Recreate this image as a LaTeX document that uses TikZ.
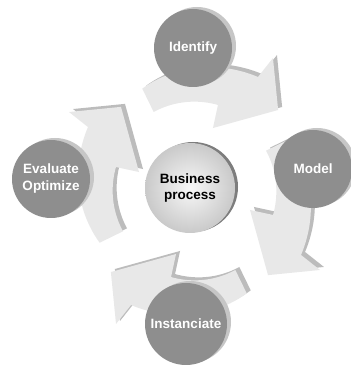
\documentclass[tikz,border=0pt]{standalone}
\usepackage{fontspec}
\setmainfont{Liberation Sans}
\definecolor{stagegray}{RGB}{142,142,142}
\definecolor{stageshadow}{RGB}{198,198,198}
\definecolor{arrowface}{RGB}{232,232,232}
\definecolor{arrowside}{RGB}{188,188,188}
\definecolor{hubrim}{RGB}{125,125,125}
\begin{document}
\begin{tikzpicture}[x=1pt,y=1pt,
  stagecircle/.style={circle, fill=stagegray, minimum size=78pt, inner sep=0pt,
    text=white, font=\bfseries\fontsize{13.5}{17}\selectfont, align=center,
    preaction={fill=stageshadow, transform canvas={shift={(4pt,2pt)}}}},
  hubcircle/.style={circle, minimum size=90pt, inner sep=0pt,
    shading=radial, inner color=gray!6, outer color=gray!42,
    text=black, font=\bfseries\fontsize{13.5}{16}\selectfont, align=center,
    preaction={fill=hubrim, transform canvas={shift={(3pt,1pt)}}}}]
\useasboundingbox (0,0) rectangle (350,366);
\fill[white] (0,0) rectangle (350,366);
% curved arrows: extruded side, then face
\foreach \rot/\dx/\dy in {0/0/0, -90/0/0, -180/8/-7, -270/8/-7} {
  \begin{scope}[shift={(194.5+\dx,181.5+\dy)}, rotate=\rot]
    \fill[arrowside] plot[domain=116:58.6,samples=30] (\x:{110+19.5*(116-\x)/57.4})
      -- (57.5:153.5) -- (41.5:117) -- (69.3:63.6) -- (71.6:87)
      -- plot[domain=71.6:116,samples=30] (\x:{87-3*(\x-71.6)/44.4}) -- cycle;
  \end{scope}
  \begin{scope}[shift={(190.5+\dx,178.5+\dy)}, rotate=\rot]
    \fill[arrowface] plot[domain=116:58.6,samples=30] (\x:{110+19.5*(116-\x)/57.4})
      -- (57.5:153.5) -- (41.5:117) -- (69.3:63.6) -- (71.6:87)
      -- plot[domain=71.6:116,samples=30] (\x:{87-3*(\x-71.6)/44.4}) -- cycle;
  \end{scope}
}
% stage circles
\node[stagecircle] (identify) at (193,318) {Identify};
\node[stagecircle] (model) at (313,197) {Model};
\node[stagecircle, minimum size=82pt] (instanciate) at (186,42) {Instanciate};
\node[stagecircle] (evaluate) at (51,187) {Evaluate\\Optimize};
\node[hubcircle] (hub) at (190,178) {Business\\process};
\end{tikzpicture}
\end{document}
